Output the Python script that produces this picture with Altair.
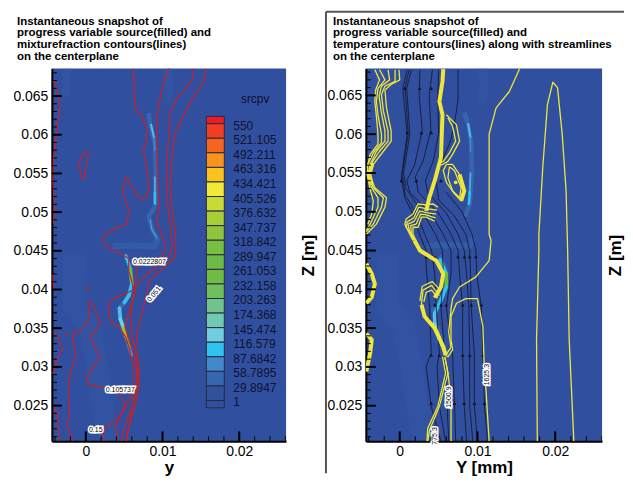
import altair as alt
import pandas as pd

FONT = "Liberation Sans"
BG = "#30509F"

# ---- values, in thousandths of the axis unit ----
A1 = [(-4.3,66.9),(-3.9,66.5),(-3.6,64.7),(-3.4,63.5),(-3.7,61.3),(-3.9,59.2),(-4.2,57.1),(-4.3,54.2),(-4.1,51.0),(-4.2,48.5)]
A2 = [(-4.3,42.0),(-4.2,39.9)]
A2b = [(0.3,40.5),(0.3,39.6)]
A3 = [(-4.2,34.5),(-3.7,33.9),(-3.0,32.4),(-3.9,30.7),(-4.3,29.0)]
A3b = [(-2.4,34.5),(-2.6,34.0)]
A4 = [(-4.3,25.1),(-3.7,24.0),(-3.5,20.4)]
B = [(0.3,57.7),(-0.2,57.8),(-0.6,57.1),(-0.9,56.0),(-0.6,55.1),(-0.3,54.2),(0.0,55.6),(0.3,57.1),(0.3,57.7)]
C = [(6.2,68.6),(6.3,66.0),(6.4,63.5),(7.4,62.2),(8.0,60.7),(7.8,58.8),(7.5,58.1),(8.0,55.3),(8.2,53.2),(8.0,52.1),(7.4,51.6),(6.7,52.1),(5.8,53.6),(5.4,54.5),(5.0,54.0),(4.8,52.5),(5.6,50.2),(5.4,48.5),(3.9,47.9),(2.6,47.2),(2.2,46.6),(2.4,46.0),(3.0,45.3),(4.5,44.7),(5.6,44.0),(5.6,42.4),(6.1,40.7),(6.1,39.9),(5.0,39.4),(3.5,38.8),(2.9,37.7),(3.2,36.0),(4.3,35.2),(5.2,33.9),(5.6,32.6),(6.1,30.5),(6.3,28.3),(6.1,26.6),(5.0,24.5),(4.1,23.2),(2.8,22.4),(2.2,21.5),(2.4,20.4)]
D = [(0.4,38.5),(0.3,36.0),(-0.6,34.7),(-1.7,34.3),(-1.6,33.0),(-1.3,31.3),(-1.7,30.2),(-2.2,28.7),(-2.2,26.1),(-2.1,24.5),(-2.4,22.5),(-1.7,20.4)]
E = [(0.4,38.5),(1.1,37.7),(1.9,35.6),(1.3,34.7),(0.6,34.1),(1.1,32.6),(1.9,31.3),(0.9,29.9),(0.2,28.8),(0.3,27.7),(2.4,27.3),(4.5,26.4),(5.1,25.3),(4.5,23.6),(3.9,22.4),(4.1,20.4)]
F = [(10.8,68.6),(10.2,66.9),(9.7,64.7),(9.3,62.8),(9.2,59.6),(9.4,53.6),(9.5,51.0),(9.3,48.5),(9.7,47.6),(10.4,45.6),(10.4,45.0),(9.5,44.0),(6.6,43.0),(6.5,40.7),(6.3,39.0),(5.6,37.0),(5.1,35.2),(5.6,33.5),(6.3,31.5),(6.6,29.5),(6.7,27.5),(6.3,25.5),(5.5,23.5),(4.8,21.5),(4.6,20.4)]
G = [(14.1,68.6),(13.9,67.1),(11.9,64.7),(11.0,63.0),(10.8,60.0),(10.5,55.8),(10.6,51.6),(11.0,48.2),(11.3,45.6),(11.0,44.6),(9.7,43.3),(8.0,42.0),(6.7,40.7),(6.1,39.0),(5.9,36.5),(6.0,34.0),(6.8,31.0),(7.0,28.5),(6.7,26.0),(6.0,23.5),(5.4,21.5),(5.2,20.4)]
H = [(15.6,68.6),(15.4,66.9),(13.9,64.7),(12.8,62.6),(11.7,60.4),(11.3,57.8),(11.1,55.6),(11.0,53.0),(11.3,49.7),(11.7,47.2),(11.7,45.3),(11.6,44.2),(10.2,42.9),(8.3,41.1),(7.8,38.8),(7.1,36.2),(6.7,34.5),(6.5,32.4),(6.8,29.4),(6.5,27.2),(6.0,24.5),(5.6,22.3),(5.3,20.4)]
red_lines = [A1, A2, A2b, A3, A3b, A4, B, C, D, E, F, G, H]

band_a = [(-1.5,44.5),(-1.6,38.0),(0.5,35.0),(1.5,30.0),(2.0,26.0),(2.8,22.0),(3.0,20.4)]
band_b = [(3.5,45.6),(5.5,45.7),(9.0,45.6),(9.4,46.6)]
band_c = [(-2.5,68.6),(-2.6,65.0)]
band_d = [(10.6,68.6),(10.9,66.0),(10.4,64.0)]

halo_left_up = [(8.2,62.8),(8.4,61.3),(9.0,58.8),(9.1,54.9),(9.1,50.9),(8.2,49.4),(8.7,47.6),(9.4,46.4)]
halo_left_low = [(5.2,44.4),(5.8,42.7),(6.0,40.7),(5.6,39.2),(5.0,38.3),(4.3,37.5),(4.5,36.2),(5.1,34.3),(5.6,32.8),(6.0,31.5)]
flame_left = [
    ((8.5,61.3),(8.9,59.6),"#55BDE8",2.0), ((8.9,59.6),(9.0,58.0),"#4289CB",1.5),
    ((9.0,54.5),(9.0,52.5),"#4FA8DC",2.0), ((9.0,52.5),(9.0,51.1),"#2FC4F0",2.5),
    ((8.4,49.0),(8.6,47.8),"#4AA0D8",1.2), ((8.6,47.8),(9.2,46.8),"#4AA0D8",1.2),
    ((5.2,44.4),(5.8,42.7),"#2FC4F0",3.0), ((5.8,42.7),(6.0,40.7),"#6DBB44",3.5),
    ((6.0,40.7),(5.6,39.2),"#2FC4F0",3.5), ((5.6,39.2),(5.0,38.3),"#2FC4F0",3.5),
    ((4.4,37.6),(4.5,36.2),"#55BDE8",3.5), ((4.5,36.2),(5.1,34.5),"#72CDDF",3.5),
    ((4.9,35.0),(5.3,33.8),"#8FC43E",3.5), ((5.2,34.2),(5.4,33.5),"#F7941E",2.5),
    ((5.5,33.5),(5.7,32.4),"#6DBB44",3.0), ((5.7,32.4),(6.0,31.5),"#4289CB",3.0),
]
flame_right = [
    ((8.8,61.3),(9.1,59.6),"#55BDE8",2.0), ((9.1,59.6),(9.1,57.8),"#4289CB",1.5),
    ((9.1,55.0),(9.0,52.5),"#4FA8DC",2.0), ((9.0,52.5),(8.9,51.0),"#2FC4F0",2.5),
    ((5.2,43.8),(6.0,42.0),"#2FC4F0",3.5), ((6.0,42.0),(6.0,40.3),"#6DBB44",3.5),
    ((6.0,40.3),(5.3,38.6),"#2FC4F0",3.5), ((5.3,38.6),(4.5,36.9),"#2FC4F0",3.5),
    ((4.5,36.9),(4.5,35.6),"#55BDE8",3.5), ((4.5,35.6),(5.1,33.6),"#72CDDF",3.5),
    ((5.1,33.6),(5.8,31.9),"#2FC4F0",3.5),
]
halo_right_up = [(8.3,62.8),(8.8,61.3),(9.2,58.8),(9.3,54.9),(9.0,50.9),(8.4,49.4)]

# right panel: temperature contours
Y1 = [(-0.1,68.3),(0.0,67.0),(-1.1,66.4),(-1.9,65.7),(-1.7,63.4),(-1.1,60.4),(-1.1,59.1),(-2.1,57.8),(-3.4,56.1),(-3.9,54.8),(-3.2,53.1),(-1.7,51.8),(-1.9,50.6),(-3.0,48.4),(-4.3,47.1)]
Y2 = [(-0.6,68.3),(-0.6,66.8),(-1.9,66.2),(-2.35,65.1),(-2.1,63.0),(-1.5,60.4),(-1.5,59.1),(-2.6,57.8),(-3.6,56.3),(-3.9,54.8),(-3.4,53.1),(-2.1,51.8),(-2.35,50.6),(-3.4,48.4),(-4.3,47.4)]
Y3 = [(-1.5,68.3),(-1.3,67.0),(-2.35,66.2),(-2.65,64.9),(-2.4,63.0),(-1.9,60.4),(-1.9,59.1),(-3.0,57.8),(-3.8,56.1),(-4.1,54.8),(-3.6,53.1),(-2.8,51.8),(-2.8,50.6),(-3.8,48.4),(-4.3,47.6)]
Y4 = [(-2.6,68.3),(-1.9,67.0),(-2.8,65.9),(-3.0,64.2),(-2.8,62.5),(-2.35,60.0),(-2.35,58.9),(-3.4,57.6),(-4.1,56.1),(-4.2,54.8),(-3.8,52.9),(-3.4,51.4),(-3.6,49.7),(-4.1,48.4)]
Y5 = [(-3.2,68.3),(-2.6,67.0),(-3.1,65.7),(-3.2,64.2),(-3.0,62.3),(-2.8,60.0),(-2.8,58.7),(-3.8,57.4),(-4.2,55.7)]
R1 = [(6.0,62.5),(7.3,61.2),(7.7,59.1),(6.8,57.4),(6.2,56.5),(5.3,56.0)]
R2 = [(6.2,62.1),(6.8,61.0),(7.2,59.1),(6.4,57.6),(5.6,56.5),(5.3,56.4)]
O1 = [(6.0,56.1),(6.8,56.1),(7.7,54.8),(8.3,52.7),(7.9,51.4),(7.05,52.3),(6.0,53.8),(5.6,55.3),(6.0,56.1)]
O2 = [(6.4,55.8),(7.05,55.3),(7.9,53.1),(7.7,51.8),(6.8,52.7),(6.2,54.4),(6.4,55.8)]
W1 = [(4.9,50.6),(4.3,51.0),(3.4,50.9),(2.35,51.0),(1.7,49.7),(0.85,49.1),(0.65,48.4),(1.05,47.6),(1.7,46.3)]
W2 = [(4.7,49.7),(3.4,49.9),(2.55,50.1),(1.9,48.8),(1.05,48.4),(1.3,47.4),(1.9,46.3)]
W3 = [(4.5,48.8),(3.4,49.3),(2.8,49.3),(2.35,48.0),(1.7,48.0),(1.7,47.1),(2.1,46.3)]
W4 = [(4.8,50.2),(3.4,50.4),(2.45,50.6),(1.8,49.2),(0.95,48.7),(0.85,48.0),(1.2,47.5),(1.8,46.3)]
W5 = [(4.6,49.2),(3.4,49.6),(2.7,49.7),(2.1,48.4),(1.4,48.2),(1.5,47.2),(2.0,46.3)]
L1 = [(5.1,39.2),(4.1,40.5),(3.0,39.9),(2.8,38.2),(3.2,36.5)]
L2 = [(4.9,38.9),(4.1,39.9),(3.4,39.6),(3.1,38.4)]
L3 = [(5.3,39.8),(4.2,41.0),(2.9,40.4),(2.6,38.5)]
P1 = [(5.8,31.3),(6.2,29.2),(6.6,25.8),(6.6,23.2),(6.6,20.4)]
P2 = [(5.8,31.3),(6.2,29.2),(5.1,24.9),(3.85,21.9),(3.6,20.4)]
P2b = [(5.5,31.3),(5.9,29.2),(4.9,24.9),(3.6,22.1),(3.5,20.4)]
P3 = [(5.9,31.5),(6.2,31.3),(6.8,32.2),(6.6,33.5),(6.6,36.5),(7.3,38.2),(8.5,38.8),(10.0,38.8),(10.7,35.2),(10.9,29.2),(11.1,27.0),(11.5,20.4)]
P4 = [(5.9,31.5),(6.6,32.5),(6.3,34.5),(6.6,37.5),(6.8,38.8),(7.7,40.3),(9.8,41.6),(11.5,43.7),(11.75,46.3),(11.5,47.1),(11.5,60.0),(12.4,63.4),(14.1,65.5),(15.4,68.4)]
TALL = [(17.7,20.4),(17.6,33.5),(17.9,45.0),(17.9,47.1),(18.4,55.7),(19.0,63.8),(19.7,66.7),(20.3,66.0),(20.9,60.0),(21.4,52.7),(21.6,45.0),(21.8,33.5),(22.4,20.4)]
yellow_thin = [Y1, Y2, Y3, Y4, Y5, R1, R2, O1, O2, W1, W2, W3, W4, W5, L1, L2, L3, P1, P2, P2b, P3, P4, TALL]

THICK1 = [(5.6,68.4),(5.5,66.8),(5.1,64.2),(5.5,62.5),(5.3,57.0),(4.5,54.0),(3.8,51.8),(3.4,50.1)]
THICK2 = [(1.9,46.3),(2.6,45.0),(4.7,43.7),(5.6,42.0),(5.3,40.3),(4.5,38.9)]
THICK3 = [(2.8,38.0),(3.2,36.5),(4.5,35.0),(5.6,32.6),(5.9,31.5)]
THICK4 = [(-4.3,43.3),(-3.6,42.0),(-3.2,40.7),(-3.6,39.0),(-4.3,38.2)]
THICK5 = [(-4.3,34.3),(-3.6,33.5),(-3.8,31.8),(-4.3,29.4)]
THICK6 = [(7.7,54.8),(8.3,52.7),(7.9,51.4)]
THICK7 = [(-3.5,56.3),(-3.9,54.8),(-3.6,53.5)]
yellow_thick = [THICK1, THICK2, THICK3, THICK4, THICK5, THICK6, THICK7]
yellow_dot = [(7.2,53.8)]

s1 = [(0.95,68.3),(0.4,65.9),(0.95,60.0),(0.2,54.4),(0.65,51.8),(1.9,49.3),(2.55,47.1),(3.4,45.0),(3.4,42.9),(3.85,37.7),(4.05,31.8),(3.4,30.0),(4.05,24.9),(5.3,20.4)]
s2 = [(1.2,68.3),(0.7,65.9),(1.1,60.0),(0.3,54.8),(0.7,52.2),(2.4,49.3),(3.2,47.1),(4.1,45.0),(4.5,42.0),(4.7,37.7),(5.1,31.8),(4.8,30.0),(5.1,24.9),(5.9,20.4)]
s3 = [(1.5,68.3),(0.9,65.9),(1.3,60.0),(0.5,55.0),(0.8,53.0),(3.0,49.8),(4.6,47.1),(5.5,45.0),(5.6,42.0),(5.3,37.7),(5.8,31.5),(6.1,25.0),(6.3,20.4)]
s4 = [(2.6,68.3),(2.5,65.0),(2.9,60.5),(1.9,56.0),(0.9,54.0),(1.3,52.5),(4.0,49.7),(5.6,47.1),(6.6,45.0),(6.6,42.0),(6.0,37.7),(6.8,31.5),(7.05,25.0),(7.2,20.4)]
s5 = [(4.2,68.3),(3.8,65.0),(4.0,60.5),(3.0,56.5),(2.0,54.5),(2.4,52.5),(5.0,49.8),(6.6,47.1),(7.5,45.0),(7.7,42.0),(8.1,37.7),(8.1,31.5),(8.3,25.0),(8.6,20.4)]
s6 = [(5.0,68.3),(4.9,65.0),(5.0,60.0),(4.3,56.5),(3.3,54.0),(3.6,52.5),(6.0,49.8),(7.5,47.1),(8.3,45.0),(8.6,42.0),(8.9,37.7),(9.0,31.5),(9.0,25.0),(9.4,20.4)]
s7 = [(7.5,68.3),(7.5,64.5),(7.0,61.0),(6.5,59.0),(5.2,56.0),(4.6,54.5),(5.0,51.5),(7.0,49.5),(8.5,47.1),(9.0,45.0),(9.1,42.0),(9.2,37.7),(9.6,31.5),(9.6,25.0),(10.0,20.4)]
s8 = [(6.0,52.5),(8.0,50.0),(9.3,47.1),(9.8,45.0),(9.9,42.0),(10.5,37.7),(10.7,31.5),(10.9,25.0),(11.3,20.4)]
streamlines = [s1, s2, s3, s4, s5, s6, s7, s8]
arrow_x = [0.65,2.55,4.05,0.95,2.8,4.05,0.2,2.15,5.3,3.4,4.5,7.5,8.3,9.0,9.8,4.5,5.3,6.0,8.1,9.2,10.5,4.05,5.1,8.1,9.0,10.7,4.05,5.1,7.05,8.3,9.6,10.9]
arrow_z = [65.9,65.9,65.9,60.2,60.2,60.2,54.0,54.0,54.0,44.2,44.2,44.2,44.2,44.2,44.2,38.0,38.0,38.0,38.0,38.0,38.0,31.5,31.5,31.5,31.5,31.5,25.3,25.3,25.3,25.3,25.3,25.3]

levels = [550,521.105,492.211,463.316,434.421,405.526,376.632,347.737,318.842,289.947,261.053,232.158,203.263,174.368,145.474,116.579,87.6842,58.7895,29.8947,1]
level_colors = ["#ED1C24","#EF3F23","#F3661F","#F7941E","#F9C31B","#F0E937","#C8DA34","#A9CD37","#8FC43E","#78BE43","#6DBB44","#6FBD45","#70BE5C","#6FC48C","#70C9B3","#72CDDF","#2FC4F0","#4289CB","#3566AE","#31519F","#314FA0"]

y_major = [0.025,0.03,0.035,0.04,0.045,0.05,0.055,0.06,0.065]
y_minor = [n/1000 for n in range(21,69)]
x_major = [0,0.01,0.02]
x_minor = [n/1000 for n in range(-4,27,2)]

title_left = "Instantaneous snapshot of\nprogress variable source(filled) and\nmixturefraction contours(lines)\non the centerplane"
title_right = "Instantaneous snapshot of\nprogress variable source(filled) and\ntemperature contours(lines) along with streamlines\non the centerplane"

W, HT = 235, 374


def frame(paths):
    rows = []
    for k, p in enumerate(paths):
        for i, (a, b) in enumerate(p):
            rows.append({"id": k, "i": i, "x": a * 0.001, "z": b * 0.001})
    return pd.DataFrame(rows)


def panel(xdom, ydom, xtitle, title, title_x, z_title_x, extra, w=W):
    X = alt.X("x:Q", scale=alt.Scale(domain=xdom, nice=False, zero=False),
              axis=alt.Axis(values=x_major, title=xtitle, format="~g", ticks=False, grid=False,
                            domainWidth=2, domainColor="black", labelFont=FONT, labelFontSize=14,
                            labelColor="black", labelPadding=3, labelFlush=False, labelOverlap=False,
                            titleFont=FONT, titleFontSize=17, titleFontWeight="bold",
                            titleColor="black", titlePadding=1))
    Yn = alt.Y("z:Q", scale=alt.Scale(domain=ydom, nice=False, zero=False), axis=None)
    Ya = alt.Y("z:Q", scale=alt.Scale(domain=ydom, nice=False, zero=False),
               axis=alt.Axis(values=y_major, title="Z [m]", format="~g", ticks=False, grid=False,
                             domainWidth=2, domainColor="black", labelFont=FONT, labelFontSize=14,
                             labelColor="black", labelPadding=4, labelOverlap=False, labelFlush=False,
                             titleFont=FONT, titleFontSize=17, titleFontWeight="bold", titleColor="black",
                             titleAngle=270, titleX=z_title_x, titleY=187))

    def lines(paths, color, width, opacity=1.0):
        return alt.Chart(frame(paths)).mark_line(clip=True, color=color, strokeWidth=width,
                                                 opacity=opacity, strokeJoin="round").encode(
            x=X, y=Yn, detail="id:N", order="i:Q")

    def segs(items):
        rows = []
        for k, (a, b, c, wd) in enumerate(items):
            rows.append({"id": k, "i": 0, "x": a[0]*0.001, "z": a[1]*0.001, "c": c, "w": wd})
            rows.append({"id": k, "i": 1, "x": b[0]*0.001, "z": b[1]*0.001, "c": c, "w": wd})
        return alt.Chart(pd.DataFrame(rows)).mark_line(clip=True, strokeCap="round").encode(
            x=X, y=Yn, detail="id:N", order="i:Q",
            color=alt.Color("c:N", scale=None),
            strokeWidth=alt.StrokeWidth("w:Q", scale=None))

    axis_layer = alt.Chart(pd.DataFrame({"z": y_major})).mark_rule(color="black", strokeWidth=2).encode(
        y=Ya, x=alt.value(0), x2=alt.value(10))
    minor_y = alt.Chart(pd.DataFrame({"z": y_minor})).mark_rule(color="black", strokeWidth=1).encode(
        y=Yn, x=alt.value(0), x2=alt.value(5))
    major_x = alt.Chart(pd.DataFrame({"x": x_major})).mark_rule(color="black", strokeWidth=2).encode(
        x=X, y=alt.value(HT), y2=alt.value(HT - 10))
    minor_x = alt.Chart(pd.DataFrame({"x": x_minor})).mark_rule(color="black", strokeWidth=1, clip=True).encode(
        x=X, y=alt.value(HT), y2=alt.value(HT - 5))
    ttl = alt.Chart(pd.DataFrame({"t": [title]})).mark_text(
        font=FONT, fontSize=11.5, fontWeight="bold", color="black", align="left", baseline="top",
        lineBreak="\n", lineHeight=11.7).encode(text="t:N", x=alt.value(title_x), y=alt.value(-53))

    bands = [lines([band_a], "#3660AC", 22, 0.22), lines([band_b], "#3A72BA", 6, 0.35),
             lines([band_c, band_d], "#3660AC", 9, 0.25)]

    layers = bands + extra(lines, segs, X, Yn)
    layers += [axis_layer, minor_y, major_x, minor_x, ttl]
    return alt.layer(*layers).resolve_scale(y="independent").properties(
        width=w, height=HT, view=alt.ViewConfig(fill=BG, stroke=None))


def label_layer(X, Yn, xs, zs, ts, angs):
    df = pd.DataFrame({"x": [v*0.001 for v in xs], "z": [v*0.001 for v in zs], "t": ts, "a": angs})
    base = dict(font=FONT, fontSize=7, align="center", baseline="middle")
    enc = dict(x=X, y=Yn, text="t:N", angle=alt.Angle("a:Q", scale=None))
    return [alt.Chart(df).mark_text(color="white", stroke="white", strokeWidth=3, **base).encode(**enc),
            alt.Chart(df).mark_text(color="black", **base).encode(**enc)]


def left_extra(lines, segs, X, Yn):
    dom = [1, 550]
    rng = [333, 55.3]
    Yl = alt.Y("hi:Q", scale=alt.Scale(domain=dom, range=rng, nice=False, zero=False), axis=None)
    Yt = alt.Y("lv:Q", scale=alt.Scale(domain=dom, range=rng, nice=False, zero=False), axis=None)
    step = levels[0] - levels[1]
    edges = [levels[0] + step / 2] + levels + [levels[-1] - step / 2]
    leg = pd.DataFrame({"hi": edges[:-1], "lo": edges[1:], "c": level_colors})
    rects = alt.Chart(leg).mark_rect(stroke="#2A2A40", strokeWidth=1).encode(
        y=Yl, y2="lo:Q", x=alt.value(155), x2=alt.value(173), color=alt.Color("c:N", scale=None))
    lab = pd.DataFrame({"lv": levels, "t": ["550","521.105","492.211","463.316","434.421","405.526","376.632","347.737","318.842","289.947","261.053","232.158","203.263","174.368","145.474","116.579","87.6842","58.7895","29.8947","1"]})
    texts = alt.Chart(lab).mark_text(font=FONT, fontSize=12, color="#101030", align="left", baseline="middle", dy=2).encode(
        y=Yt, x=alt.value(182), text="t:N")
    head = alt.Chart(pd.DataFrame({"t": ["srcpv"]})).mark_text(font=FONT, fontSize=12, color="#101030", align="center", baseline="middle").encode(
        x=alt.value(204), y=alt.value(31), text="t:N")
    out = [lines([halo_left_up, halo_left_low], "#3F78BE", 4.5, 0.5), segs(flame_left),
           rects, texts, head, lines(red_lines, "#C8202C", 1.2)]
    out += label_layer(X, Yn, [8.3, 8.9, 4.5, 1.3], [43.5, 39.4, 27.0, 21.8],
                       ["0.0222807", "0.051", "0.105737", "0.15"], [0, 310, 0, 0])
    return out


def right_extra(lines, segs, X, Yn):
    dot = alt.Chart(frame([yellow_dot])).mark_point(filled=True, color="#EFE63A", size=14, opacity=1).encode(x=X, y=Yn)
    arrows = alt.Chart(pd.DataFrame({"x": [v*0.001 for v in arrow_x], "z": [v*0.001 for v in arrow_z]})).mark_point(
        shape="triangle-up", filled=True, color="#111122", size=14, opacity=1, clip=True).encode(x=X, y=Yn)
    out = [lines([halo_right_up, halo_left_low], "#3F78BE", 4.5, 0.5), segs(flame_right),
           lines(streamlines, "#14142A", 0.8), arrows,
           lines(yellow_thin, "#EFE63A", 1.3), lines(yellow_thick, "#EFE63A", 4.0), dot]
    out += label_layer(X, Yn, [11.2, 6.4, 4.5], [29.0, 26.1, 21.1],
                       ["1625.3", "1500.9", "775.3"], [270, 270, 270])
    border = pd.DataFrame({"k": ["v"]})
    out.append(alt.Chart(border).mark_rule(color="#555555", strokeWidth=2).encode(
        x=alt.value(-40), y=alt.value(-57), y2=alt.value(406)))
    out.append(alt.Chart(border).mark_rule(color="#555555", strokeWidth=2).encode(
        x=alt.value(-40), x2=alt.value(259), y=alt.value(-57)))
    return out


left = panel([-0.00442, 0.0261], [0.02038, 0.06855], "y", title_left, -35, 266, left_extra)
right = panel([-0.00436, 0.02603], [0.0204, 0.06846], "Y [mm]", title_right, -33, 259, right_extra, w=237)

chart = alt.hconcat(left, right, spacing=80, bounds="flush").properties(
    padding={"left": 4, "top": 2, "right": 0, "bottom": 0},
    background="white",
)
chart.save("out.html", embed_options={"renderer": "svg", "actions": False})
